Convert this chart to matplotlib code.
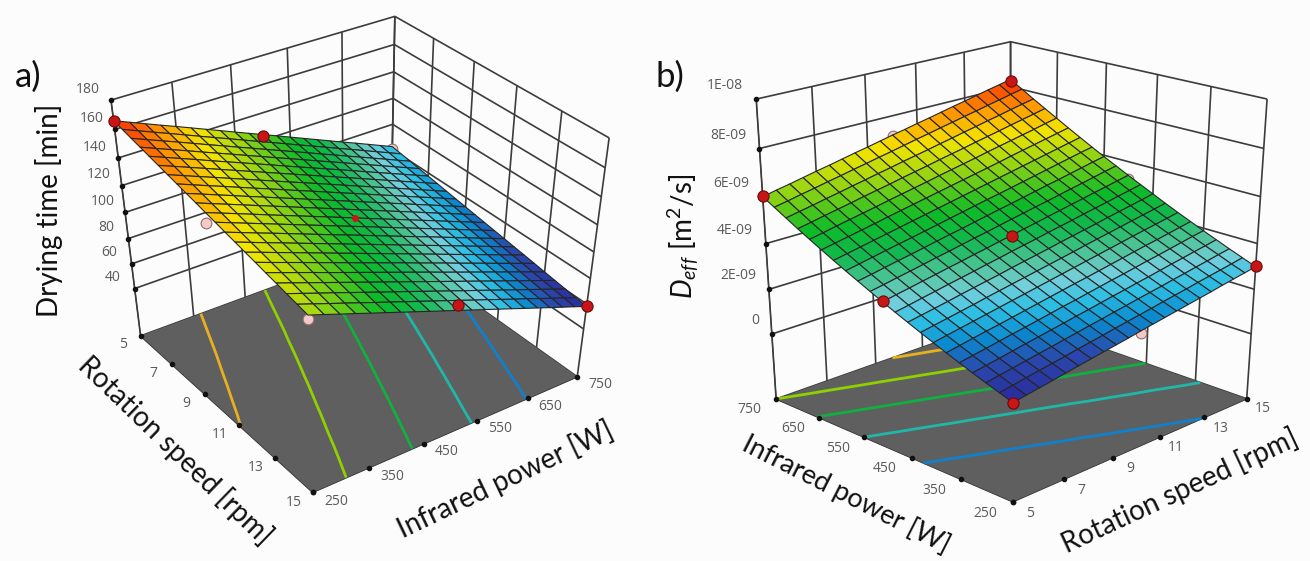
import numpy as np
import matplotlib
matplotlib.use('Agg')
import matplotlib.pyplot as plt
from matplotlib.colors import LinearSegmentedColormap, Normalize
from matplotlib.transforms import Affine2D

FIG_W, FIG_H = 1310, 561

rpm_ticks = [5, 7, 9, 11, 13, 15]
power_ticks = [250, 350, 450, 550, 650, 750]
rpm_mesh = [5.0, 5.5, 6.0, 6.5, 7.0, 7.5, 8.0, 8.5, 9.0, 9.5, 10.0, 10.5, 11.0, 11.5, 12.0, 12.5, 13.0, 13.5, 14.0, 14.5, 15.0]
power_mesh = [250, 275, 300, 325, 350, 375, 400, 425, 450, 475, 500, 525, 550, 575, 600, 625, 650, 675, 700, 725, 750]

# drying time [min], one row per rotation speed, one column per infrared power
drying_time = [
    [166.0, 161.8, 157.6, 153.4, 149.3, 145.1, 140.9, 136.7, 132.5, 128.3, 124.2, 120.0, 115.8, 111.6, 107.4, 103.2, 99.0, 94.9, 90.7, 86.5, 82.3],
    [164.5, 160.3, 156.1, 152.0, 147.8, 143.6, 139.4, 135.3, 131.1, 126.9, 122.8, 118.6, 114.4, 110.3, 106.1, 101.9, 97.8, 93.6, 89.4, 85.3, 81.1],
    [162.9, 158.7, 154.6, 150.5, 146.3, 142.1, 138.0, 133.8, 129.7, 125.5, 121.4, 117.2, 113.1, 108.9, 104.8, 100.6, 96.5, 92.3, 88.2, 84.0, 79.9],
    [161.4, 157.2, 153.1, 149.0, 144.8, 140.7, 136.6, 132.4, 128.3, 124.1, 120.0, 115.9, 111.7, 107.6, 103.5, 99.3, 95.2, 91.1, 86.9, 82.8, 78.7],
    [159.8, 155.7, 151.6, 147.5, 143.3, 139.2, 135.1, 131.0, 126.9, 122.7, 118.6, 114.5, 110.4, 106.3, 102.2, 98.0, 93.9, 89.8, 85.7, 81.6, 77.5],
    [158.3, 154.2, 150.1, 146.0, 141.9, 137.8, 133.7, 129.6, 125.5, 121.4, 117.3, 113.2, 109.1, 105.0, 100.9, 96.8, 92.7, 88.6, 84.5, 80.4, 76.3],
    [156.7, 152.6, 148.5, 144.5, 140.4, 136.3, 132.2, 128.1, 124.0, 120.0, 115.9, 111.8, 107.7, 103.6, 99.5, 95.5, 91.4, 87.3, 83.2, 79.1, 75.0],
    [155.2, 151.1, 147.0, 143.0, 138.9, 134.8, 130.8, 126.7, 122.6, 118.6, 114.5, 110.4, 106.4, 102.3, 98.2, 94.2, 90.1, 86.0, 82.0, 77.9, 73.8],
    [153.6, 149.6, 145.5, 141.5, 137.4, 133.4, 129.3, 125.3, 121.2, 117.2, 113.1, 109.1, 105.0, 101.0, 96.9, 92.9, 88.8, 84.8, 80.7, 76.7, 72.6],
    [152.1, 148.0, 144.0, 140.0, 135.9, 131.9, 127.9, 123.8, 119.8, 115.8, 111.7, 107.7, 103.7, 99.6, 95.6, 91.6, 87.5, 83.5, 79.5, 75.4, 71.4],
    [150.5, 146.5, 142.5, 138.5, 134.4, 130.4, 126.4, 122.4, 118.4, 114.4, 110.4, 106.3, 102.3, 98.3, 94.3, 90.3, 86.3, 82.2, 78.2, 74.2, 70.2],
    [149.0, 145.0, 141.0, 137.0, 133.0, 129.0, 125.0, 121.0, 117.0, 113.0, 109.0, 105.0, 101.0, 97.0, 93.0, 89.0, 85.0, 81.0, 77.0, 73.0, 69.0],
    [147.4, 143.4, 139.4, 135.5, 131.5, 127.5, 123.5, 119.5, 115.6, 111.6, 107.6, 103.6, 99.6, 95.6, 91.7, 87.7, 83.7, 79.7, 75.7, 71.8, 67.8],
    [145.9, 141.9, 137.9, 134.0, 130.0, 126.0, 122.1, 118.1, 114.1, 110.2, 106.2, 102.2, 98.3, 94.3, 90.4, 86.4, 82.4, 78.5, 74.5, 70.5, 66.6],
    [144.3, 140.4, 136.4, 132.5, 128.5, 124.6, 120.6, 116.7, 112.7, 108.8, 104.8, 100.9, 96.9, 93.0, 89.0, 85.1, 81.2, 77.2, 73.3, 69.3, 65.4],
    [142.8, 138.8, 134.9, 131.0, 127.0, 123.1, 119.2, 115.2, 111.3, 107.4, 103.5, 99.5, 95.6, 91.7, 87.7, 83.8, 79.9, 75.9, 72.0, 68.1, 64.2],
    [141.2, 137.3, 133.4, 129.5, 125.5, 121.6, 117.7, 113.8, 109.9, 106.0, 102.1, 98.2, 94.2, 90.3, 86.4, 82.5, 78.6, 74.7, 70.8, 66.9, 62.9],
    [139.7, 135.8, 131.9, 128.0, 124.1, 120.2, 116.3, 112.4, 108.5, 104.6, 100.7, 96.8, 92.9, 89.0, 85.1, 81.2, 77.3, 73.4, 69.5, 65.6, 61.7],
    [138.1, 134.2, 130.3, 126.5, 122.6, 118.7, 114.8, 110.9, 107.1, 103.2, 99.3, 95.4, 91.5, 87.7, 83.8, 79.9, 76.0, 72.2, 68.3, 64.4, 60.5],
    [136.6, 132.7, 128.8, 125.0, 121.1, 117.2, 113.4, 109.5, 105.7, 101.8, 98.0, 94.1, 90.2, 86.4, 82.5, 78.6, 74.8, 70.9, 67.0, 63.2, 59.3],
    [135.0, 131.2, 127.3, 123.5, 119.6, 115.8, 111.9, 108.1, 104.2, 100.4, 96.6, 92.7, 88.9, 85.0, 81.2, 77.3, 73.5, 69.6, 65.8, 62.0, 58.1],
]
time_ticks = [40, 60, 80, 100, 120, 140, 160, 180]
time_levels = [74, 90.5, 107.6, 126, 147]
time_above = [(5, 250, 166), (5, 500, 123), (15, 500, 100.6), (15, 750, 58.1)]
time_center = [(10, 500, 110.3)]
time_below = [(10, 250, 143.6), (15, 250, 132), (5, 750, 80)]

# Deff [1E-09 m2/s], one row per infrared power, one column per rotation speed
deff = [
    [1.16, 1.25, 1.34, 1.43, 1.53, 1.62, 1.71, 1.80, 1.89, 1.98, 2.08, 2.17, 2.26, 2.35, 2.44, 2.53, 2.62, 2.72, 2.81, 2.90, 2.99],
    [1.35, 1.44, 1.54, 1.63, 1.72, 1.81, 1.91, 2.00, 2.09, 2.19, 2.28, 2.37, 2.46, 2.56, 2.65, 2.74, 2.84, 2.93, 3.02, 3.11, 3.21],
    [1.54, 1.64, 1.73, 1.83, 1.92, 2.01, 2.11, 2.20, 2.30, 2.39, 2.49, 2.58, 2.68, 2.77, 2.86, 2.96, 3.05, 3.15, 3.24, 3.34, 3.43],
    [1.74, 1.84, 1.93, 2.03, 2.13, 2.22, 2.32, 2.41, 2.51, 2.60, 2.70, 2.80, 2.89, 2.99, 3.08, 3.18, 3.28, 3.37, 3.47, 3.56, 3.66],
    [1.95, 2.05, 2.14, 2.24, 2.34, 2.43, 2.53, 2.63, 2.73, 2.82, 2.92, 3.02, 3.12, 3.21, 3.31, 3.41, 3.50, 3.60, 3.70, 3.80, 3.89],
    [2.16, 2.26, 2.36, 2.46, 2.55, 2.65, 2.75, 2.85, 2.95, 3.05, 3.15, 3.24, 3.34, 3.44, 3.54, 3.64, 3.74, 3.83, 3.93, 4.03, 4.13],
    [2.38, 2.48, 2.58, 2.68, 2.78, 2.88, 2.98, 3.08, 3.18, 3.28, 3.38, 3.48, 3.58, 3.68, 3.78, 3.88, 3.98, 4.08, 4.17, 4.27, 4.37],
    [2.60, 2.70, 2.80, 2.90, 3.00, 3.11, 3.21, 3.31, 3.41, 3.51, 3.61, 3.71, 3.81, 3.92, 4.02, 4.12, 4.22, 4.32, 4.42, 4.52, 4.62],
    [2.83, 2.93, 3.03, 3.13, 3.24, 3.34, 3.44, 3.54, 3.65, 3.75, 3.85, 3.95, 4.06, 4.16, 4.26, 4.36, 4.47, 4.57, 4.67, 4.77, 4.88],
    [3.06, 3.16, 3.27, 3.37, 3.48, 3.58, 3.68, 3.79, 3.89, 4.00, 4.10, 4.20, 4.31, 4.41, 4.51, 4.62, 4.72, 4.82, 4.93, 5.03, 5.14],
    [3.30, 3.41, 3.51, 3.62, 3.72, 3.83, 3.93, 4.04, 4.14, 4.25, 4.35, 4.46, 4.56, 4.67, 4.77, 4.88, 4.98, 5.09, 5.19, 5.30, 5.40],
    [3.55, 3.65, 3.76, 3.86, 3.97, 4.08, 4.18, 4.29, 4.40, 4.50, 4.61, 4.72, 4.82, 4.93, 5.03, 5.14, 5.25, 5.35, 5.46, 5.57, 5.67],
    [3.80, 3.90, 4.01, 4.12, 4.22, 4.33, 4.44, 4.55, 4.65, 4.76, 4.87, 4.98, 5.08, 5.19, 5.30, 5.41, 5.51, 5.62, 5.73, 5.84, 5.94],
    [4.05, 4.16, 4.27, 4.38, 4.49, 4.59, 4.70, 4.81, 4.92, 5.03, 5.14, 5.25, 5.35, 5.46, 5.57, 5.68, 5.79, 5.90, 6.01, 6.12, 6.22],
    [4.31, 4.42, 4.53, 4.64, 4.75, 4.86, 4.97, 5.08, 5.19, 5.30, 5.41, 5.52, 5.63, 5.74, 5.85, 5.96, 6.07, 6.18, 6.29, 6.40, 6.51],
    [4.58, 4.69, 4.80, 4.91, 5.02, 5.14, 5.25, 5.36, 5.47, 5.58, 5.69, 5.80, 5.91, 6.02, 6.13, 6.25, 6.36, 6.47, 6.58, 6.69, 6.80],
    [4.85, 4.96, 5.08, 5.19, 5.30, 5.41, 5.53, 5.64, 5.75, 5.86, 5.98, 6.09, 6.20, 6.31, 6.43, 6.54, 6.65, 6.76, 6.87, 6.99, 7.10],
    [5.13, 5.24, 5.36, 5.47, 5.58, 5.70, 5.81, 5.92, 6.04, 6.15, 6.26, 6.38, 6.49, 6.60, 6.72, 6.83, 6.94, 7.06, 7.17, 7.28, 7.40],
    [5.42, 5.53, 5.64, 5.76, 5.87, 5.99, 6.10, 6.22, 6.33, 6.45, 6.56, 6.67, 6.79, 6.90, 7.02, 7.13, 7.25, 7.36, 7.48, 7.59, 7.70],
    [5.71, 5.82, 5.94, 6.05, 6.17, 6.28, 6.40, 6.51, 6.63, 6.74, 6.86, 6.98, 7.09, 7.21, 7.32, 7.44, 7.55, 7.67, 7.78, 7.90, 8.01],
    [6.00, 6.12, 6.23, 6.35, 6.47, 6.58, 6.70, 6.82, 6.93, 7.05, 7.17, 7.28, 7.40, 7.51, 7.63, 7.75, 7.86, 7.98, 8.10, 8.21, 8.33],
]
deff_ticks = [0, 2, 4, 6, 8, 10]
deff_tick_labels = ['0', '2E-09', '4E-09', '6E-09', '8E-09', '1E-08']
deff_levels = [2.6, 3.8, 4.9, 6.0, 7.1]
deff_above = [(5, 250, 1.13), (5, 500, 3.32), (5, 750, 6.01), (10, 500, 4.32), (15, 250, 3.01), (15, 750, 8.27)]
deff_below = [(10, 750, 7.13), (15, 500, 5.23), (10, 250, 1.99)]

plt.rcParams['font.family'] = 'Open Sans'
plt.rcParams['grid.color'] = '#3c3c3c'
plt.rcParams['grid.linewidth'] = 1.2
plt.rcParams['mathtext.fontset'] = 'custom'
plt.rcParams['mathtext.rm'] = 'Lato'
plt.rcParams['mathtext.it'] = 'Lato:italic'

surface_cmap = LinearSegmentedColormap.from_list('response', [
    (0.0, '#2a2a9c'), (0.09, '#2a48ac'), (0.16, '#0a8ad0'), (0.23, '#2cc0e4'), (0.29, '#74cfdc'),
    (0.36, '#50c49a'), (0.44, '#12b850'), (0.54, '#0cba28'), (0.70, '#a8d810'), (0.79, '#f4e400'),
    (0.88, '#ffa000'), (1.0, '#f82c00')])
level_colors = ['#1080cc', '#1fb8a8', '#10b040', '#8ed000', '#e8b020']


def place_axes(ax, scale_x, scale_y, origin_x, origin_y):
    # pixel scales and origin of the panel, worked out from the wall corners
    x0, x1 = ax.viewLim.intervalx
    side = scale_x * (x1 - x0)
    half = side / scale_y / 2
    ax.viewLim.intervaly = (-half, half)
    left = origin_x + scale_x * x0
    bottom = origin_y + scale_y * half
    ax.set_position([left / FIG_W, 1 - bottom / FIG_H, side / FIG_W, side / FIG_H])


def shift_tick_labels(ax, axis, dx, dy, align='center'):
    # Axis3D puts transData back on its ticks each time it fetches them
    offset = Affine2D().translate(dx, -dy)
    fetch_ticks = axis.get_major_ticks

    def shifted_ticks(numticks=None):
        ticks = fetch_ticks(numticks)
        for tick in ticks:
            tick.label1.set_transform(ax.transData + offset)
            tick.label1.set_horizontalalignment(align)
        return ticks

    axis.get_major_ticks = shifted_ticks


def axis_title(x, y, text, angle, size=20):
    fig.text(x / FIG_W, 1 - y / FIG_H, text, family='Lato', fontsize=size, color='#111111', rotation=angle,
             ha='center', va='center', rotation_mode='anchor')


def draw_panel(ax, grid, zlim, z_ticks, z_labels, levels, above, below, z_edge, juggled):
    ax.computed_zorder = False
    ax.patch.set_alpha(0)
    ax.set_xlim(rpm_ticks[0], rpm_ticks[-1])
    ax.set_ylim(power_ticks[0], power_ticks[-1])
    ax.set_zlim(*zlim)
    ax.set_xticks(rpm_ticks)
    ax.set_yticks(power_ticks)
    ax.set_zticks(z_ticks, labels=z_labels)
    ax.tick_params(axis='both', labelsize=10, labelcolor='#5a5a5a', color='none', pad=0)
    ax.tick_params(axis='z', labelsize=10, labelcolor='#5a5a5a', color='none', pad=0)
    for axis in (ax.xaxis, ax.yaxis, ax.zaxis):
        axis.set_pane_color((1, 1, 1, 0))
        axis.pane.set_edgecolor('none')
        axis.line.set_color('#3c3c3c')
    ax.zaxis._axinfo['juggled'] = juggled

    rpm_grid, power_grid = np.meshgrid(rpm_mesh, power_mesh, indexing='ij')
    floor_x, floor_y = np.meshgrid(rpm_ticks, power_ticks, indexing='ij')
    ax.plot_surface(floor_x, floor_y, np.full(floor_x.shape, zlim[0]), color='#5f5f5f', shade=False,
                    rstride=5, cstride=5, linewidth=0, zorder=1)
    ax.contour(rpm_grid, power_grid, grid, levels=levels, zdir='z', offset=zlim[0],
               colors=level_colors, linewidths=2.0, zorder=2)

    ax.plot(rpm_ticks, [z_edge[0]] * 6, [zlim[0]] * 6, 'o', color='#111111', ms=3, zorder=2)
    ax.plot([z_edge[1]] * 6, power_ticks, [zlim[0]] * 6, 'o', color='#111111', ms=3, zorder=2)
    ax.plot([z_edge[2]] * len(z_ticks), [z_edge[3]] * len(z_ticks), z_ticks, 'o', color='#111111', ms=3, zorder=2)

    x, y, z = zip(*below)
    ax.scatter(x, y, z, s=60, color='#f6c8c8', edgecolor='#8a7070', linewidth=0.8, depthshade=False, zorder=3)
    ax.plot_surface(rpm_grid, power_grid, grid, cmap=surface_cmap,
                    norm=Normalize(np.min(grid), np.max(grid)), rstride=1, cstride=1, shade=False,
                    edgecolor='#262626', linewidth=0.8, zorder=4)
    x, y, z = zip(*above)
    ax.scatter(x, y, z, s=65, color='#c81616', edgecolor='#6a0a0a', linewidth=0.8, depthshade=False, zorder=5)


fig = plt.figure(figsize=(FIG_W / 100, FIG_H / 100), dpi=100, facecolor='#fcfcfc')

ax_a = fig.add_axes([0, 0, 1, 1], projection='3d')
ax_a.view_init(38.574, -35.306, -0.0154)
ax_a.set_proj_type('persp', focal_length=0.55426)
ax_a.set_box_aspect((np.exp(-0.099486), np.exp(-0.088974), 1))
draw_panel(ax_a, np.array(drying_time), (0, 180), time_ticks, [str(v) for v in time_ticks],
           time_levels, time_above, time_below, (250, 15, 5, 250), (1, 2, 0))
x, y, z = zip(*time_center)
ax_a.scatter(x, y, z, s=16, color='#c81616', depthshade=False, zorder=5)
place_axes(ax_a, 3133.6, 2585.2, 355.4, 245.1)
shift_tick_labels(ax_a, ax_a.xaxis, -9, -10)
shift_tick_labels(ax_a, ax_a.yaxis, 16, -13)
shift_tick_labels(ax_a, ax_a.zaxis, -6, -17)

ax_b = fig.add_axes([0, 0, 1, 1], projection='3d')
ax_b.view_init(23.641, -135.22, -0.0356)
ax_b.set_proj_type('persp', focal_length=0.59358)
ax_b.set_box_aspect((np.exp(-0.15876), np.exp(-0.15602), 1))
draw_panel(ax_b, np.array(deff).T, (-3, 10), deff_ticks, deff_tick_labels,
           deff_levels, deff_above, deff_below, (250, 5, 5, 750), (0, 2, 1))
place_axes(ax_b, 3337.0, 2688.9, 1011.6, 255.1)
shift_tick_labels(ax_b, ax_b.xaxis, 8, -10)
shift_tick_labels(ax_b, ax_b.yaxis, -18, -10)
shift_tick_labels(ax_b, ax_b.zaxis, 4, -21, align='right')

axis_title(175, 450, 'Rotation speed [rpm]', -44)
axis_title(505, 480, 'Infrared power [W]', 25.5)
axis_title(49, 210, 'Drying time [min]', 90)
axis_title(846, 494, 'Infrared power [W]', -27, size=19.5)
axis_title(1180, 491, 'Rotation speed [rpm]', 25)
axis_title(683, 236, r'$\mathit{D}_{\mathit{eff}}$ [m$^2$/s]', 90)

fig.text(15 / FIG_W, 1 - 87 / FIG_H, 'a)', family='Lato', fontsize=25, color='#111111')
fig.text(656 / FIG_W, 1 - 87 / FIG_H, 'b)', family='Lato', fontsize=25, color='#111111')

fig.savefig('out.png', dpi=100, facecolor=fig.get_facecolor())
